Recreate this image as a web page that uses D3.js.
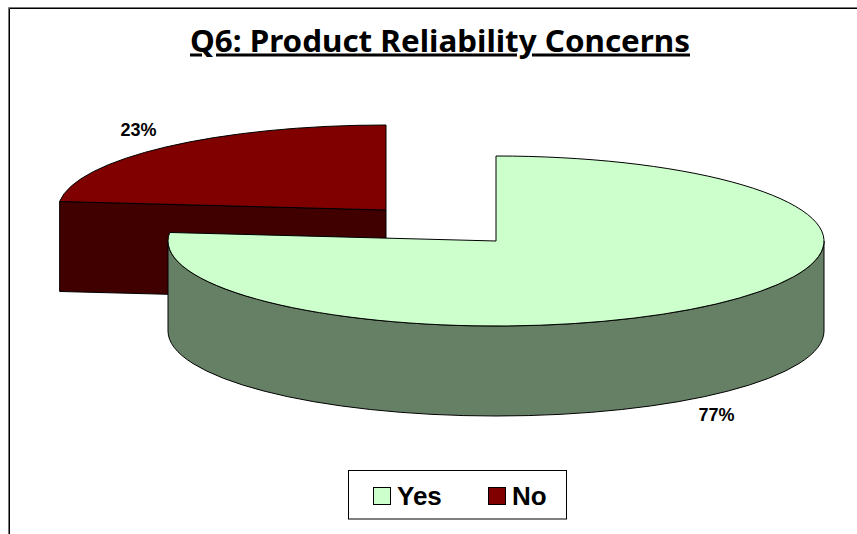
<!DOCTYPE html>
<html><head><meta charset="utf-8">
<script src="https://cdnjs.cloudflare.com/ajax/libs/d3/7.8.5/d3.min.js"></script>
<style>html,body{margin:0;padding:0;background:#fff}svg{display:block}</style>
</head><body><svg id="c" width="857" height="534"></svg>
<script>
const categories = ["Yes", "No"];
const values = [76.6, 23.4];
const labels = ["77%", "23%"];
const topColors = ["#CCFFCC", "#800000"];
const sideColors = ["#668066", "#400000"];
const centers = [[496, 241], [386, 210]];
const labelPos = [[716.5, 421], [138.5, 136]];
const rx = 328, ry = 85, depth = 90;

const svg = d3.select("#c");
// frame
svg.append("path").attr("d", "M9.5,534V8.5H857").attr("fill", "none").attr("stroke", "#000").attr("stroke-width", 1);
svg.append("path").attr("d", "M8.5,534V7.5H857").attr("fill", "none").attr("stroke", "#777").attr("stroke-width", 1);

svg.append("text").attr("x", 440).attr("y", 51.5).attr("text-anchor", "middle")
  .attr("font-family", "'Noto Sans'").attr("font-weight", 700).attr("font-size", 30)
  .attr("text-decoration", "underline").attr("textLength", 500).attr("lengthAdjust", "spacingAndGlyphs")
  .text("Q6: Product Reliability Concerns");

const slices = d3.pie().sort(null)(values);
const arc = d3.arc().innerRadius(0).outerRadius(rx);
const yScale = ry / rx;
const pt = (c, a, dy = 0) => [c[0] + rx * Math.sin(a), c[1] - ry * Math.cos(a) + dy];

function drawSide(i) {
  const c = centers[i], s = slices[i];
  const g = svg.append("g").attr("fill", sideColors[i]).attr("stroke", "#000").attr("stroke-width", 1);
  if (i === 1) {
    // cut face visible in front of the exploded slice
    const p = pt(c, s.startAngle);
    g.append("path").attr("d", d3.line()([p, c, [c[0], c[1] + depth], [p[0], p[1] + depth]]) + "Z");
  } else {
    // front outer wall, from the right extreme round to the left extreme
    const r = pt(c, Math.PI / 2), l = pt(c, 3 * Math.PI / 2);
    g.append("path").attr("d",
      `M${r}A${rx},${ry} 0 0 1 ${l}L${l[0]},${l[1] + depth}A${rx},${ry} 0 0 0 ${r[0]},${r[1] + depth}Z`);
  }
}
function drawTop(i) {
  const c = centers[i];
  svg.append("path").attr("d", arc(slices[i]))
    .attr("transform", `translate(${c}) scale(1,${yScale})`)
    .attr("fill", topColors[i]).attr("stroke", "#000").attr("stroke-width", 1)
    .attr("vector-effect", "non-scaling-stroke");
}
drawSide(1); drawTop(1);
drawSide(0); drawTop(0);

labels.forEach((t, i) => svg.append("text").attr("x", labelPos[i][0]).attr("y", labelPos[i][1])
  .attr("text-anchor", "middle").attr("font-family", "'Liberation Sans'").attr("font-weight", 700)
  .attr("font-size", 18).text(t));

// legend
svg.append("rect").attr("x", 348.5).attr("y", 470.5).attr("width", 218).attr("height", 48.5)
  .attr("fill", "#fff").attr("stroke", "#000");
const legendX = d3.scaleOrdinal().domain(categories).range([373.5, 488.5]);
categories.forEach((cat, i) => {
  const x = legendX(cat);
  svg.append("rect").attr("x", x).attr("y", 487.5).attr("width", 17).attr("height", 17)
    .attr("fill", topColors[i]).attr("stroke", "#000");
  svg.append("text").attr("x", x + 23.5).attr("y", 504.5).attr("font-family", "'Liberation Sans'")
    .attr("font-weight", 700).attr("font-size", 26).text(cat);
});
</script></body></html>
